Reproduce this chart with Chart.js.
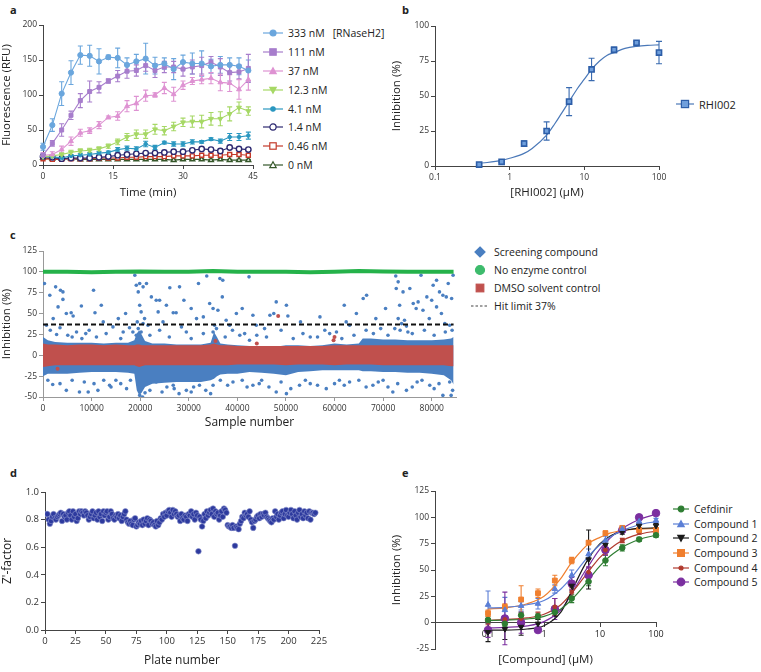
<!DOCTYPE html>
<html>
<head>
<meta charset="utf-8">
<script src="https://cdn.jsdelivr.net/npm/chart.js@4.4.0/dist/chart.umd.min.js"></script>
<style>
  body { margin: 0; background: #fff; font-family: 'Open Sans', sans-serif; }
  #wrap { position: relative; width: 761px; height: 672px; overflow: hidden; }
  #wrap canvas { position: absolute; }
  .lbl { position: absolute; font-weight: bold; font-size: 11px; color: #222; }
  .leg { position: absolute; display: flex; align-items: center; font-size: 10.5px; color: #222; white-space: nowrap; height: 12px; }
  .leg svg { margin-right: 4px; }
  .tick { position: absolute; z-index: 10; font-size: 9px; color: #222; white-space: nowrap; line-height: 10px; text-align: center; width: 30px; }
</style>
</head>
<body>
<div id="wrap">
  <div class="lbl" style="left:10px;top:2px">a</div>
  <div class="lbl" style="left:402px;top:2px">b</div>
  <div class="lbl" style="left:10px;top:227px">c</div>
  <div class="lbl" style="left:10px;top:465px">d</div>
  <div class="lbl" style="left:402px;top:465px">e</div>
  <canvas id="ca" width="260" height="200" style="left:0;top:0"></canvas>
  <canvas id="cb" width="280" height="200" style="left:390px;top:0"></canvas>
  <canvas id="cc" width="470" height="210" style="left:0;top:225px"></canvas>
  <canvas id="cd" width="340" height="232" style="left:0;top:440px"></canvas>
  <canvas id="ce" width="280" height="232" style="left:390px;top:440px"></canvas>
</div>
<script>
// ---- panel a: fluorescence time course ----
const aTimes = [0, 2, 4, 6, 8, 10, 12, 14, 16, 18, 20, 22, 24, 26, 28, 30, 32, 34, 36, 38, 40, 42, 44];
const aLabels = ["333 nM", "111 nM", "37 nM", "12.3 nM", "4.1 nM", "1.4 nM", "0.46 nM", "0 nM"];
const a333 = [26, 57, 102, 132, 157, 156, 148, 154, 153, 143, 148, 152, 142, 145, 137, 147, 145, 145, 141, 143, 143, 141, 135];
const a111 = [14, 31, 50, 71, 92, 105, 111, 120, 127, 134, 135, 142, 135, 140, 140, 137, 140, 142, 147, 140, 132, 133, 138];
const a37 = [14, 15, 22, 34, 46, 49, 57, 68, 70, 84, 88, 99, 100, 110, 101, 114, 120, 122, 124, 118, 117, 108, 122];
const a12 = [12, 13, 15, 18, 20, 21, 23, 27, 33, 40, 44, 44, 51, 49, 55, 61, 62, 62, 66, 66, 73, 82, 77];
const a4 = [12, 12, 10, 13, 14, 15, 17, 18, 22, 24, 23, 30, 25, 32, 30, 30, 33, 33, 37, 34, 40, 40, 42];
const a14 = [12, 11, 9, 10, 10, 10, 11, 12, 14, 15, 16, 17, 17, 18, 19, 19, 21, 23, 22, 20, 25, 23, 22];
const a046 = [9, 8, 8, 9, 9, 9, 10, 10, 10, 11, 11, 12, 12, 12, 13, 13, 13, 14, 14, 14, 15, 15, 14];
const a0 = [10, 9, 9, 9, 8, 8, 8, 8, 8, 8, 8, 8, 8, 8, 7, 8, 8, 8, 7, 8, 7, 7, 7];
const a333Err = [5, 9, 17, 17, 13, 15, 18, 3, 14, 10, 10, 22, 12, 8, 15, 10, 15, 18, 10, 12, 10, 12, 15];
const a111Err = [3, 4, 9, 6, 10, 15, 8, 3, 8, 10, 8, 8, 10, 8, 8, 10, 10, 12, 8, 12, 12, 10, 20];
const a37Err = [3, 4, 5, 6, 5, 4, 5, 2, 6, 8, 10, 8, 3, 8, 10, 6, 5, 6, 8, 12, 12, 14, 15];
const a12Err = [2, 2, 2, 3, 3, 3, 3, 3, 4, 5, 6, 6, 7, 6, 6, 6, 8, 9, 9, 10, 10, 8, 6];
const a4Err = [2, 2, 2, 2, 2, 2, 2, 2, 3, 3, 3, 4, 3, 2, 3, 3, 3, 2, 2, 3, 5, 5, 5];
const a14Err = [1, 1, 1, 1, 1, 1, 1, 1, 1, 1, 1, 1, 1, 1, 1, 1, 1, 2, 2, 2, 2, 2, 2];
const a046Err = [1, 1, 1, 1, 1, 1, 1, 1, 1, 1, 1, 1, 1, 1, 1, 1, 1, 1, 1, 2, 2, 2, 2];
const a0Err = [1, 1, 1, 1, 1, 1, 1, 1, 1, 1, 1, 1, 1, 1, 1, 1, 1, 1, 1, 1, 1, 1, 1];

// ---- panel b: RHI002 dose response ----
const bConc = [0.39, 0.78, 1.56, 3.125, 6.25, 12.5, 25, 50, 100];
const bInhib = [1, 3, 16, 25, 46, 69, 83, 88, 81];
const bErr = [0.5, 0.5, 2, 6.5, 10, 8, 2, 1, 8];
const bFitX = [0.39, 0.5, 0.78, 1, 1.56, 2, 3.125, 4, 5, 6.25, 8, 10, 12.5, 16, 20, 25, 35, 50, 70, 100];
const bFitY = [2, 2.5, 4, 5.5, 9, 12.5, 22, 30, 38, 46, 55, 62, 69, 75, 79, 81, 84, 85.5, 86.2, 86.5];

// ---- panel c: screening campaign ----
const cXTicks = [0, 10000, 20000, 30000, 40000, 50000, 60000, 70000, 80000];
// envelopes of the dense bands (screening compounds, DMSO controls)
const cBandX = [0, 1000, 2500, 5000, 7500, 10000, 12500, 15000, 17500, 18800, 19300, 19800, 20300, 21000, 22500, 25000, 27500, 30000, 32500, 34500, 35200, 35800, 36500, 38000, 40000, 42500, 45000, 47500, 50000, 52500, 55000, 57500, 60000, 62500, 65000, 65800, 67500, 70000, 72500, 75000, 77500, 80000, 82500, 84000, 84500];
const cBlueHi = [22, 18, 16, 15, 15, 15, 14, 15, 15, 18, 26, 30, 25, 17, 14, 14, 13, 13, 13, 15, 28, 22, 14, 13, 12, 11, 10, 10, 12, 12, 11, 12, 14, 13, 14, 20, 20, 19, 19, 18, 18, 18, 19, 20, 22];
const cBlueLo = [-25, -22, -22, -22, -21, -20, -20, -20, -21, -22, -42, -48, -45, -38, -34, -33, -32, -32, -32, -30, -28, -25, -23, -22, -22, -20, -21, -22, -24, -20, -19, -18, -18, -18, -18, -19, -19, -20, -20, -21, -21, -22, -24, -30, -35];
const cRedHi = [14, 13, 13, 12, 13, 13, 12, 13, 12, 12, 13, 13, 12, 12, 12, 12, 12, 12, 12, 13, 14, 13, 12, 12, 11, 11, 11, 11, 11, 11, 11, 11, 12, 12, 12, 12, 12, 12, 12, 12, 12, 12, 12, 12, 12];
const cRedLo = [-14, -13, -12, -12, -12, -12, -12, -12, -12, -12, -13, -14, -13, -12, -12, -12, -12, -12, -12, -12, -12, -12, -12, -12, -11, -11, -11, -11, -12, -11, -11, -11, -12, -11, -11, -11, -11, -12, -12, -12, -12, -12, -12, -13, -13];
const cGreenX = [0, 5000, 10000, 15000, 20000, 25000, 30000, 35000, 40000, 45000, 50000, 55000, 60000, 65000, 70000, 75000, 80000, 84500];
const cGreenY = [100, 100, 99.5, 100, 100.5, 100, 100, 101, 100, 100, 100, 99.5, 100, 101, 100.5, 100, 100, 100];
const cHitLimit = 37;
const cScreenOut = [
  [300, 86], [1400, 72], [2600, 82], [3600, 78], [4100, 76], [4100, 67], [3100, 58], [4800, 50], [5800, 51], [6200, 47],
  [7900, 59], [2100, 44], [700, 36], [10400, 78], [10700, 51], [6900, 28], [5100, 24], [8800, 26], [12400, 40], [14400, 34],
  [16500, 28], [18900, 96], [19200, 84], [19900, 86], [20600, 82], [21300, 86], [19600, 76], [19900, 60], [20200, 52], [20900, 44],
  [21600, 36], [18500, 28], [19200, 24], [19600, 32], [20200, 28], [19400, 40], [20600, 38], [22300, 70], [23300, 66], [24000, 66],
  [25400, 60], [26100, 81], [26800, 51], [27400, 51], [28100, 82], [23700, 52], [24700, 40], [29500, 28], [31600, 44], [32000, 86],
  [33700, 95], [36400, 92], [35000, 56], [34300, 62], [36000, 54], [35300, 36], [35000, 28], [35700, 32], [37700, 42], [38400, 36],
  [39800, 50], [40500, 24], [37000, 90], [36900, 70], [42400, 94], [43200, 48], [43900, 36], [45600, 32], [48000, 64], [46700, 48],
  [50100, 60], [50400, 47], [44000, 24], [60400, 28], [63100, 36], [62400, 40], [55000, 22], [58000, 30], [66600, 72], [65900, 68],
  [72700, 80], [73100, 88], [73400, 60], [74100, 76], [75500, 80], [76200, 62], [77200, 64], [76800, 56], [78200, 54], [72400, 32],
  [73100, 44], [73800, 38], [74400, 42], [75100, 28], [72600, 95], [77800, 96], [80300, 84], [81000, 90], [81600, 76], [82300, 72],
  [83000, 70], [83400, 86], [84100, 68], [81000, 58], [82000, 50], [82700, 38], [83700, 36], [84400, 96], [80000, 66], [79500, 44],
  [1500, 30], [2800, 25], [3500, 33], [6000, 22], [8000, 20], [9500, 30], [11000, 22], [13000, 26], [16000, 20], [17800, 33],
  [22000, 24], [24000, 30], [26000, 22], [28500, 34], [30500, 20], [33000, 26], [37500, 22], [39000, 30], [41500, 26], [42500, 18],
  [46000, 22], [49000, 30], [51500, 20], [53500, 26], [56500, 22], [59000, 26], [61500, 20], [64000, 24], [66500, 30], [68000, 26],
  [69500, 32], [71000, 24], [73500, 30], [74800, 35], [76000, 26], [78500, 30], [80500, 24], [82800, 28], [84200, 30],
  [12000, 60], [15500, 44], [17000, 50], [29000, 66], [30500, 56], [33000, 46], [41000, 56], [47500, 50], [53000, 40], [57000, 46],
  [62000, 60], [64500, 50], [68500, 44], [70500, 56], [79000, 70],
  [4800, -42], [7500, -44], [9300, -44], [11300, -42], [13700, -36], [17200, -40], [19900, -48], [23300, -32], [26800, -36], [29500, -42],
  [32200, -36], [35000, -36], [39100, -32], [43200, -36], [48000, -44], [50100, -46], [52800, -36], [58300, -40], [63100, -32], [67900, -36],
  [72000, -44], [74800, -42], [79600, -36], [82300, -48], [83700, -32], [2000, -35], [15000, -30], [21000, -45], [27000, -40], [31000, -38],
  [45000, -30], [55000, -34], [61000, -30], [70000, -30], [77000, -32],
  [1000, -30], [3500, -34], [6000, -30], [8500, -32], [10500, -34], [12500, -30], [14000, -38], [16000, -34], [18000, -30], [20500, -50],
  [22000, -42], [24500, -44], [25500, -38], [28000, -46], [30500, -44], [33500, -42], [34500, -46], [36500, -30], [38000, -36], [41000, -30],
  [42000, -38], [44500, -34], [46500, -38], [49000, -32], [51000, -40], [54000, -30], [56500, -36], [60000, -34], [62000, -36], [65000, -30],
  [66500, -38], [69000, -32], [71000, -38], [73000, -34], [76000, -38], [78000, -30], [80500, -40], [81500, -34], [84300, -42], [84000, -48]
];
const cDmsoOut = [[48400, 47], [60000, 22], [59800, 18], [35500, 17], [44000, 14], [3000, -16]];

// ---- panel d: Z'-factor per plate ----
const dZ = [
  0.84, 0.84, 0.80, 0.77, 0.79, 0.82, 0.84, 0.81, 0.80, 0.82, 0.83, 0.84, 0.85, 0.79, 0.84, 0.82, 0.83, 0.80, 0.85, 0.86,
  0.83, 0.80, 0.86, 0.82, 0.84, 0.79, 0.81, 0.86, 0.84, 0.86, 0.85, 0.83, 0.86, 0.85, 0.83, 0.80, 0.82, 0.84, 0.86, 0.81,
  0.83, 0.85, 0.80, 0.86, 0.82, 0.84, 0.79, 0.86, 0.83, 0.85, 0.86, 0.80, 0.82, 0.86, 0.84, 0.81, 0.80, 0.83, 0.82, 0.84,
  0.81, 0.83, 0.79, 0.82, 0.84, 0.86, 0.80, 0.78, 0.77, 0.79, 0.77, 0.76, 0.80, 0.81, 0.75, 0.76, 0.78, 0.77, 0.79, 0.76,
  0.80, 0.77, 0.79, 0.81, 0.76, 0.80, 0.79, 0.77, 0.78, 0.76, 0.75, 0.79, 0.76, 0.78, 0.81, 0.80, 0.84, 0.82, 0.85, 0.83,
  0.86, 0.87, 0.85, 0.82, 0.87, 0.84, 0.86, 0.84, 0.82, 0.83, 0.79, 0.84, 0.81, 0.80, 0.83, 0.82, 0.79, 0.84, 0.83, 0.86,
  0.82, 0.84, 0.80, 0.85, 0.83, 0.57, 0.82, 0.80, 0.75, 0.79, 0.84, 0.81, 0.86, 0.83, 0.85, 0.87, 0.84, 0.88, 0.82, 0.86,
  0.84, 0.85, 0.80, 0.83, 0.86, 0.82, 0.88, 0.87, 0.85, 0.76, 0.75, 0.75, 0.74, 0.76, 0.74, 0.61, 0.75, 0.74, 0.73, 0.77,
  0.79, 0.82, 0.81, 0.85, 0.83, 0.84, 0.82, 0.86, 0.80, 0.78, 0.74, 0.79, 0.80, 0.82, 0.83, 0.81, 0.84, 0.82, 0.84, 0.83,
  0.85, 0.82, 0.81, 0.80, 0.79, 0.78, 0.81, 0.80, 0.86, 0.82, 0.84, 0.80, 0.83, 0.85, 0.86, 0.81, 0.84, 0.87, 0.83, 0.82,
  0.85, 0.87, 0.84, 0.81, 0.86, 0.83, 0.80, 0.85, 0.87, 0.82, 0.84, 0.81, 0.86, 0.83, 0.85, 0.81, 0.86, 0.80, 0.85, 0.85,
  0.84, 0.85
];

// ---- panel e: compound dose responses ----
const eConc = [0.1, 0.2, 0.39, 0.78, 1.56, 3.125, 6.25, 12.5, 25, 50, 100];
const eNames = ["Cefdinir", "Compound 1", "Compound 2", "Compound 3", "Compound 4", "Compound 5"];
const eCef = [2.5, -1, 7, 6, 10, 23, 39, 59, 71, 79, 83];
const eC1 = [17, 12, 16, 18, 32, 45, 65, 78, 89, 96, 97];
const eC2 = [-9, -6, -4, -1, 9, 35, 60, 74, 86, 92, 92];
const eC3 = [9, 15, 22, 28, 40, 59, 76, 85, 90, 88, 88];
const eC4 = [1, 3, 4, 7, 15, 29, 48, 69, 78, 86, 86];
const eC5 = [-7, 4, 0, -7, 13, 37, 45, 69, 88, 100, 104];
const eCefErr = [3, 3, 3, 3, 3, 4, 4, 5, 3, 2, 2];
const eC1Err = [13, 12, 4, 5, 4, 5, 5, 4, 2, 2, 2];
const eC2Err = [9, 10, 8, 4, 3, 4, 28, 4, 2, 2, 2];
const eC3Err = [3, 3, 13, 4, 5, 3, 2, 2, 2, 2, 2];
const eC4Err = [3, 3, 3, 3, 8, 4, 4, 4, 2, 2, 2];
const eC5Err = [7, 25, 10, 2, 10, 6, 8, 5, 2, 2, 2];
const eFitX = [0.1, 0.2, 0.5, 1, 2, 3, 5, 7, 10, 15, 20, 30, 50, 100];
const eFitCef = [2, 2.5, 3.5, 6, 13, 21, 34, 44, 54, 63, 68, 74, 79, 83];
const eFitC1 = [14, 14.5, 17, 21, 32, 42, 57, 66, 74, 81, 85, 89, 93, 96];
const eFitC2 = [-7, -7, -6, -3, 10, 28, 52, 65, 75, 82, 85, 88, 89.5, 90];
const eFitC3 = [13, 14, 18, 25, 42, 56, 70, 77, 81, 85, 86.5, 88, 89, 89.5];
const eFitC4 = [2, 3, 4.5, 8, 17, 27, 42, 52, 62, 70, 75, 80, 84, 87];
const eFitC5 = [-5, -4.5, -3, 1, 12, 26, 46, 58, 70, 80, 86, 92, 98, 103];

const logTicks = [0.1, 1, 10, 100];

Chart.defaults.font.family = "'Open Sans', sans-serif";
Chart.defaults.color = "#333";

const xy = (xs, ys) => xs.map((x, i) => ({ x: x, y: ys[i] }));

// vertical error bars with caps, read from dataset.errors
const errorBars = {
  id: "errorBars",
  beforeDatasetsDraw(chart) {
    const ctx = chart.ctx;
    chart.data.datasets.forEach((ds, i) => {
      if (!ds.errors) return;
      const meta = chart.getDatasetMeta(i);
      const ys = chart.scales[meta.yAxisID];
      ctx.save();
      ctx.strokeStyle = ds.borderColor;
      ctx.lineWidth = 1.1;
      meta.data.forEach((pt, j) => {
        const e = ds.errors[j];
        if (!e) return;
        const v = ds.data[j].y;
        const t = ys.getPixelForValue(v + e), b = ys.getPixelForValue(v - e);
        const cw = ds.capWidth || 3;
        ctx.beginPath();
        ctx.moveTo(pt.x, t); ctx.lineTo(pt.x, b);
        ctx.moveTo(pt.x - cw, t); ctx.lineTo(pt.x + cw, t);
        ctx.moveTo(pt.x - cw, b); ctx.lineTo(pt.x + cw, b);
        ctx.stroke();
      });
      ctx.restore();
    });
  }
};

// axis builder: every option given up front
function mkAxis(o) {
  const ticks = { color: "#333", font: { size: o.fs || 8.5 }, padding: 2, maxRotation: 0, autoSkip: false };
  if (o.step) ticks.stepSize = o.step;
  if (o.cb) ticks.callback = o.cb;
  if (o.noLabels) ticks.display = false;
  const a = {
    type: o.type || "linear", min: o.min, max: o.max,
    grid: { drawOnChartArea: false, tickLength: 4, color: o.color || "#444" },
    border: { color: o.color || "#444" },
    ticks: ticks,
    title: { display: true, text: o.title, color: "#222", font: { size: o.tfs || 11.5 }, padding: o.tpad || { top: 0, bottom: 0 } }
  };
  if (o.pos) a.position = o.pos;
  if (o.w) a.afterFit = s => { s.width = o.w; };
  if (o.h) a.afterFit = s => { s.height = o.h; };
  if (o.tickVals) a.afterBuildTicks = s => { s.ticks = o.tickVals.map(v => ({ value: v })); };
  return a;
}

function baseOpts(pad, scales) {
  return {
    responsive: false, animation: false, layout: { padding: pad },
    plugins: { legend: { display: false }, tooltip: { enabled: false } },
    scales: scales
  };
}

function icon(shape, color, fill, o) {
  o = o || {};
  const w = o.w || 22, cx = w / 2, cy = 6, r = o.r || 3.2;
  const f = fill === true ? color : (fill || "#fff");
  let s = "";
  if (o.line) s += `<line x1="1" y1="6" x2="${w - 1}" y2="6" stroke="${o.lineColor || color}" stroke-width="1.2"${o.dash ? ' stroke-dasharray="2.5,2"' : ""}/>`;
  const st = `fill="${f}" stroke="${color}" stroke-width="1.2"`;
  if (shape === "circle") s += `<circle cx="${cx}" cy="${cy}" r="${r}" ${st}/>`;
  if (shape === "rect") s += `<rect x="${cx - r}" y="${cy - r}" width="${2 * r}" height="${2 * r}" ${st}/>`;
  if (shape === "tri") s += `<polygon points="${cx},${cy - r} ${cx + r},${cy + r * 0.8} ${cx - r},${cy + r * 0.8}" ${st}/>`;
  if (shape === "itri") s += `<polygon points="${cx},${cy + r} ${cx + r},${cy - r * 0.8} ${cx - r},${cy - r * 0.8}" ${st}/>`;
  if (shape === "diamond") s += `<polygon points="${cx},${cy - r} ${cx + r},${cy} ${cx},${cy + r} ${cx - r},${cy}" ${st}/>`;
  return `<svg width="${w}" height="12">${s}</svg>`;
}

function legendItem(x, y, svg, text, size) {
  const d = document.createElement("div");
  d.className = "leg";
  d.style.left = x + "px";
  d.style.top = (y - 6) + "px";
  if (size) d.style.fontSize = size + "px";
  d.innerHTML = svg + "<span>" + text + "</span>";
  document.getElementById("wrap").appendChild(d);
}

// ================= panel a =================
const aStyles = [
  { data: a333, err: a333Err, c: "#6aa6dd", shape: "circle", fill: true, ps: "circle", r: 2.6 },
  { data: a111, err: a111Err, c: "#a77dcc", shape: "rect", fill: true, ps: "rect", r: 2.8 },
  { data: a37, err: a37Err, c: "#de92d2", shape: "tri", fill: true, ps: "triangle", r: 2.8 },
  { data: a12, err: a12Err, c: "#a6d865", shape: "itri", fill: true, ps: "triangle", r: 2.8, rot: 180 },
  { data: a4, err: a4Err, c: "#2a97c0", shape: "circle", fill: true, ps: "circle", r: 1.8 },
  { data: a14, err: a14Err, c: "#2c2870", shape: "circle", fill: false, ps: "circle", r: 2.7 },
  { data: a046, err: a046Err, c: "#c43a2a", shape: "rect", fill: false, ps: "rect", r: 2.8 },
  { data: a0, err: a0Err, c: "#35572a", shape: "tri", fill: false, ps: "triangle", r: 2.8 }
];
new Chart(document.getElementById("ca"), {
  type: "line",
  data: {
    datasets: aStyles.map((s, i) => ({
      data: xy(aTimes, s.data), errors: s.err, capWidth: 2.5, order: i,
      borderColor: s.c, borderWidth: 1.1, backgroundColor: s.c,
      pointStyle: s.ps, pointRadius: s.r, pointRotation: s.rot || 0,
      pointBackgroundColor: s.fill ? s.c : "#fff", pointBorderColor: s.c, pointBorderWidth: s.fill ? 1 : 1.4,
      tension: 0, clip: false
    }))
  },
  options: baseOpts({ top: 25, right: 7, left: 0, bottom: 0 }, {
    x: mkAxis({ title: "Time (min)", min: 0, max: 45, step: 15, h: 35 }),
    y: mkAxis({ title: "Fluorescence (RFU)", min: 0, max: 200, step: 50, w: 43 })
  }),
  plugins: [errorBars]
});
const aLegY = [33, 52, 71, 90, 109, 127, 146, 165];
aStyles.forEach((s, i) => {
  legendItem(262, aLegY[i], icon(s.shape, s.c, s.fill, { line: true, r: s.r + 0.4 }),
    aLabels[i] + (i === 0 ? '<span style="margin-left:8px">[RNaseH2]</span>' : ""), 10.5);
});

// ================= panel b =================
new Chart(document.getElementById("cb"), {
  type: "line",
  data: {
    datasets: [
      { data: xy(bConc, bInhib), errors: bErr, capWidth: 3, showLine: false, borderColor: "#3a6bb0",
        pointStyle: "rect", pointRadius: 3.6, pointBackgroundColor: "#6f9fdc", pointBorderColor: "#2d5ea8", pointBorderWidth: 1.6, clip: false, order: 0 },
      { data: xy(bFitX, bFitY), borderColor: "#4a78b8", borderWidth: 1.2, pointRadius: 0, cubicInterpolationMode: "monotone", order: 1 }
    ]
  },
  options: baseOpts({ top: 26, right: 11, left: 0, bottom: 0 }, {
    x: mkAxis({ title: "[RHI002] (\u00b5M)", type: "logarithmic", min: 0.1, max: 100, tickVals: logTicks, cb: v => String(v), h: 34 }),
    y: mkAxis({ title: "Inhibition (%)", min: 0, max: 100, step: 25, w: 45 })
  }),
  plugins: [errorBars]
});
legendItem(675, 104, icon("rect", "#2d5ea8", "#6f9fdc", { line: true, lineColor: "#4a78b8", r: 3.6, w: 20 }), "RHI002", 11);

// ================= panel c =================
new Chart(document.getElementById("cc"), {
  type: "scatter",
  data: {
    datasets: [
      { type: "line", data: xy(cGreenX, cGreenY), borderColor: "#25b24a", borderWidth: 4, pointRadius: 0, order: 2 },
      { type: "line", data: xy([0, 84500], [cHitLimit, cHitLimit]), borderColor: "#111", borderWidth: 2, borderDash: [5, 3], pointRadius: 0, order: 1 },
      { data: cDmsoOut.map(p => ({ x: p[0], y: p[1] })), pointRadius: 2, pointBackgroundColor: "#c0504d", pointBorderWidth: 0, order: 3 },
      { data: cScreenOut.map(p => ({ x: p[0], y: p[1] })), pointRadius: 1.8, pointBackgroundColor: "#4a7fc1", pointBorderWidth: 0, order: 4 },
      { type: "line", data: xy(cBandX, cRedLo), borderWidth: 0, pointRadius: 0, fill: false, order: 6 },
      { type: "line", data: xy(cBandX, cRedHi), borderWidth: 0, pointRadius: 0, backgroundColor: "#c0504d", fill: 4, order: 5 },
      { type: "line", data: xy(cBandX, cBlueLo), borderWidth: 0, pointRadius: 0, fill: false, order: 8 },
      { type: "line", data: xy(cBandX, cBlueHi), borderWidth: 0, pointRadius: 0, backgroundColor: "#4a7fc1", fill: 6, order: 7 }
    ]
  },
  options: baseOpts({ top: 26, right: 14, left: 0, bottom: 0 }, {
    x: mkAxis({ title: "Sample number", min: 0, max: 85000, tickVals: cXTicks, cb: v => String(v), color: "#999", tfs: 12, h: 38, tpad: { top: 0, bottom: 5 } }),
    y: mkAxis({ title: "Inhibition (%)", min: -50, max: 125, step: 25, color: "#999", w: 43 })
  })
});
legendItem(470, 252, icon("diamond", "#4a7fc1", true, { r: 5, w: 20 }), "Screening compound", 10.5);
legendItem(470, 270, icon("circle", "#3dbb6c", true, { r: 4.5, w: 20 }), "No enzyme control", 10.5);
legendItem(470, 288, icon("rect", "#c0504d", true, { r: 3.8, w: 20 }), "DMSO solvent control", 10.5);
legendItem(470, 306, icon("none", "#444", true, { line: true, dash: true, w: 20 }), "Hit limit 37%", 10.5);

// ================= panel d =================
new Chart(document.getElementById("cd"), {
  type: "scatter",
  data: {
    datasets: [{
      data: dZ.map((v, i) => ({ x: i + 1, y: v })),
      pointRadius: 2.8, pointBackgroundColor: "#2d3a9e", pointBorderColor: "#8d95cf", pointBorderWidth: 0.6
    }]
  },
  options: baseOpts({ top: 52, right: 21, left: 0, bottom: 0 }, {
    x: mkAxis({ title: "Plate number", min: 0, max: 225, step: 25, fs: 9.5, tfs: 12, h: 42, tpad: { top: 0, bottom: 4 } }),
    y: mkAxis({ title: "Z'-factor", min: 0, max: 1, step: 0.2, fs: 9.5, tfs: 12, cb: v => v.toFixed(1), w: 45 })
  })
});

// ================= panel e =================
const eStyles = [
  { data: eCef, err: eCefErr, fit: eFitCef, c: "#2e7d32", shape: "circle", ps: "circle", r: 2.8 },
  { data: eC1, err: eC1Err, fit: eFitC1, c: "#5b7fd6", shape: "tri", ps: "triangle", r: 3.2 },
  { data: eC2, err: eC2Err, fit: eFitC2, c: "#1a1a1a", shape: "itri", ps: "triangle", r: 3.2, rot: 180 },
  { data: eC3, err: eC3Err, fit: eFitC3, c: "#f07f2e", shape: "rect", ps: "rect", r: 3.4 },
  { data: eC4, err: eC4Err, fit: eFitC4, c: "#b03a2e", shape: "circle", ps: "circle", r: 2 },
  { data: eC5, err: eC5Err, fit: eFitC5, c: "#7b2fa0", shape: "circle", ps: "circle", r: 3.8 }
];
const eDatasets = [];
eStyles.forEach((s, i) => {
  eDatasets.push({ data: xy(eConc, s.data), errors: s.err, capWidth: 2.5, showLine: false, borderColor: s.c,
    pointStyle: s.ps, pointRadius: s.r, pointRotation: s.rot || 0, pointBackgroundColor: s.c, pointBorderColor: s.c, pointBorderWidth: 1,
    clip: false, order: i });
  eDatasets.push({ data: xy(eFitX, s.fit), borderColor: s.c, borderWidth: 1.2, pointRadius: 0, cubicInterpolationMode: "monotone", order: 10 + i });
});
const chartE = new Chart(document.getElementById("ce"), {
  type: "line",
  data: { datasets: eDatasets },
  options: baseOpts({ top: 51, right: 14, left: 0, bottom: 23 }, {
    x: mkAxis({ title: "[Compound] (\u00b5M)", type: "logarithmic", min: 0.0113, max: 100, pos: { y: 0 }, tickVals: logTicks, noLabels: true, h: 23, tpad: { top: 0, bottom: -21 } }),
    y: mkAxis({ title: "Inhibition (%)", min: -25, max: 125, step: 25, w: 45 })
  }),
  plugins: [errorBars]
});
// x tick labels under the axis that crosses at y = 0, placed from the chart's own scales
(function () {
  const xs = chartE.scales.x, y0 = chartE.scales.y.getPixelForValue(0);
  const wrap = document.getElementById("wrap");
  logTicks.forEach(v => {
    const d = document.createElement("div");
    d.className = "tick";
    d.style.left = Math.round(390 + xs.getPixelForValue(v) - 15) + "px";
    d.style.top = Math.round(440 + y0 + 6) + "px";
    d.textContent = String(v);
    wrap.appendChild(d);
  });
})();
const eLegY = [509, 524, 538, 553, 568, 582];
eStyles.forEach((s, i) => {
  legendItem(672, eLegY[i], icon(s.shape, s.c, true, { line: true, r: s.r, w: 18 }), eNames[i], 10.5);
});
</script>
</body>
</html>
